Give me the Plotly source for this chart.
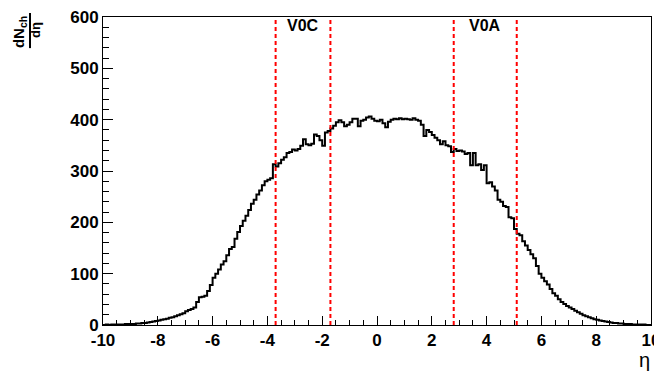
import plotly.graph_objects as go

# Histogram of dN_ch/deta, 200 bins from -10 to 10 (bin width 0.1)
eta_min = -10.0
eta_max = 10.0
bin_width = 0.1
counts = [
    0, 1, 0, 1, 1, 1, 1, 1, 2, 2,
    2, 2, 3, 3, 4, 4, 5, 6, 7, 8,
    9, 10, 11, 12, 14, 15, 17, 19, 21, 23,
    27, 29, 31, 34, 45, 54, 55, 57, 66, 78,
    92, 100, 108, 118, 124, 136, 148, 152, 168, 181,
    193, 203, 213, 224, 236, 244, 254, 262, 272, 280,
    283, 286, 313, 309, 315, 322, 327, 335, 337, 342,
    340, 343, 349, 362, 352, 350, 353, 371, 368, 360,
    349, 375, 378, 383, 388, 395, 399, 395, 387, 390,
    395, 402, 402, 387, 398, 400, 404, 406, 402, 398,
    397, 400, 393, 385, 396, 400, 402, 401, 403, 401,
    402, 401, 400, 403, 400, 398, 390, 368, 380, 376,
    370, 365, 360, 352, 358, 350, 348, 337, 343, 339,
    340, 338, 333, 335, 311, 335, 311, 313, 302, 311,
    276, 278, 270, 262, 244, 240, 232, 230, 210, 208,
    187, 178, 175, 163, 155, 146, 138, 130, 115, 100,
    92, 85, 79, 70, 62, 57, 50, 45, 41, 37,
    34, 31, 28, 25, 22, 19, 17, 15, 13, 11,
    10, 9, 8, 7, 6, 5, 4, 4, 3, 3,
    2, 2, 2, 1, 1, 1, 1, 1, 0, 0,
]

# Detector acceptance boundaries
v0c_edges = [-3.7, -1.7]
v0a_edges = [2.8, 5.1]
detector_labels = ["V0C", "V0A"]

x_ticks = [-10, -8, -6, -4, -2, 0, 2, 4, 6, 8, 10]
y_ticks = [0, 100, 200, 300, 400, 500, 600]

edges = [eta_min + i * bin_width for i in range(len(counts) + 1)]
step_y = counts + [counts[-1]]

FONT = "Liberation Sans, Arial, sans-serif"

fig = go.Figure()
fig.add_trace(go.Scatter(
    x=edges, y=step_y, mode="lines", line_shape="hv",
    line=dict(color="black", width=2), showlegend=False, hoverinfo="skip",
))

shapes = []
for xv in v0c_edges + v0a_edges:
    shapes.append(dict(type="line", xref="x", yref="y", x0=xv, x1=xv, y0=0, y1=600,
                       line=dict(color="#ff0000", width=2, dash="4px,3px")))

annotations = []
for label, pair in zip(detector_labels, [v0c_edges, v0a_edges]):
    annotations.append(dict(x=(pair[0] + pair[1]) / 2, y=583, xref="x", yref="y",
                            xanchor="center", yanchor="middle",
                            text="<b>%s</b>" % label, showarrow=False,
                            font=dict(family=FONT, size=16, color="black")))

# y-axis title as a rotated fraction
annotations.append(dict(xref="paper", yref="paper", x=-0.1533, y=0.951, xanchor="center", yanchor="middle",
                        text="<b>dN<sub>ch</sub></b>", textangle=-90, showarrow=False,
                        font=dict(family=FONT, size=15, color="black")))
annotations.append(dict(xref="paper", yref="paper", x=-0.1223, y=0.958, xanchor="center", yanchor="middle",
                        text="<b>dη</b>", textangle=-90, showarrow=False,
                        font=dict(family=FONT, size=13, color="black")))
shapes.append(dict(type="line", xref="paper", yref="paper", x0=-0.1332, x1=-0.1332,
                   y0=0.899, y1=1.013, line=dict(color="black", width=2)))

# x-axis title
annotations.append(dict(xref="paper", yref="paper", x=0.989, y=-0.114, xanchor="center", yanchor="middle",
                        text="η", showarrow=False,
                        font=dict(family=FONT, size=20, color="black")))

# Page body has an 8px margin; size the figure so the plot frame lands where the reference has it
fig.update_layout(
    width=654, height=368,
    margin=dict(l=95, r=11, t=9, b=51, autoexpand=False),
    paper_bgcolor="white", plot_bgcolor="white",
    shapes=shapes, annotations=annotations,
    font=dict(family=FONT, color="black"),
)
fig.update_xaxes(
    range=[eta_min, eta_max], tickvals=x_ticks, ticktext=[str(v) for v in x_ticks],
    ticks="inside", ticklen=9, tickwidth=1, tickcolor="black",
    showline=True, linecolor="black", linewidth=1, mirror=True,
    showgrid=False, zeroline=False, automargin=False, ticklabeloverflow="allow",
    tickfont=dict(family=FONT, size=17, color="black", weight="bold"),
    minor=dict(ticks="inside", dtick=0.5, tick0=0, ticklen=5, tickcolor="black", showgrid=False),
)
fig.update_yaxes(
    range=[0, 600], tickvals=y_ticks, ticktext=[str(v) for v in y_ticks],
    ticks="inside", ticklen=10, tickwidth=1, tickcolor="black",
    showline=True, linecolor="black", linewidth=1, mirror=True,
    showgrid=False, zeroline=False, automargin=False, ticklabeloverflow="allow",
    tickfont=dict(family=FONT, size=17, color="black", weight="bold"),
    minor=dict(ticks="inside", dtick=20, tick0=0, ticklen=6, tickcolor="black", showgrid=False),
)

fig.write_html("out.html")
